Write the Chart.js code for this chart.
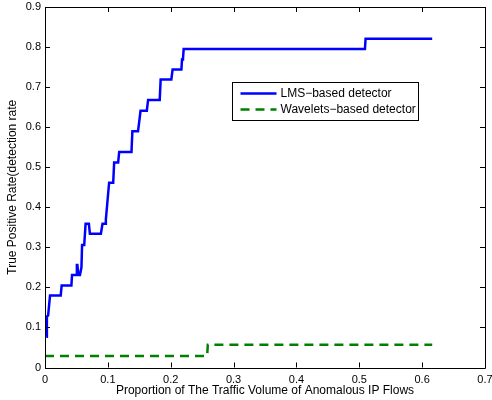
<!DOCTYPE html>
<html>
<head>
<meta charset="utf-8">
<script src="https://cdn.jsdelivr.net/npm/chart.js@4"></script>
<style>
  html, body { margin: 0; padding: 0; background: #fff; }
  #wrap { width: 492px; height: 400px; }
</style>
</head>
<body>
<div id="wrap"><canvas id="roc"></canvas></div>
<script>
// LMS-based detector (corner points of the staircase)
const lmsX = [0.002, 0.003, 0.005, 0.008, 0.025, 0.0265, 0.042, 0.043, 0.050, 0.0507, 0.0515, 0.053, 0.0556,
              0.058, 0.059, 0.0624, 0.0646, 0.0698, 0.0714, 0.0889, 0.0915, 0.0963, 0.0968, 0.1005, 0.102,
              0.1085, 0.110, 0.1164, 0.118, 0.1376, 0.139, 0.148, 0.150, 0.152, 0.162, 0.164, 0.1825, 0.184,
              0.201, 0.203, 0.217, 0.218, 0.2195, 0.2206, 0.509, 0.510, 0.616];
const lmsY = [0.077, 0.127, 0.130, 0.180, 0.180, 0.205, 0.205, 0.231, 0.231, 0.256, 0.256, 0.231, 0.231,
              0.250, 0.306, 0.306, 0.359, 0.359, 0.334, 0.334, 0.359, 0.359, 0.369, 0.435, 0.461,
              0.461, 0.512, 0.512, 0.538, 0.538, 0.590, 0.590, 0.615, 0.641, 0.641, 0.668, 0.668, 0.719,
              0.719, 0.744, 0.744, 0.769, 0.770, 0.795, 0.795, 0.821, 0.821];

// Wavelets-based detector
const wavX = [0, 0.258, 0.259, 0.616];
const wavY = [0.029, 0.029, 0.057, 0.057];

// tick labels
const xTickLabels = ['0', '0.1', '0.2', '0.3', '0.4', '0.5', '0.6', '0.7'];
const yTickLabels = ['0', '0.1', '0.2', '0.3', '0.4', '0.5', '0.6', '0.7', '0.8', '0.9'];

const seriesNames = ['LMS\u2212based detector', 'Wavelets\u2212based detector'];

const FONT = 'Liberation Sans, Arial, Helvetica, sans-serif';

function toPoints(xs, ys) {
    return xs.map((x, i) => ({x: x, y: ys[i]}));
}

// MATLAB style box: frame, inward ticks on all four sides, legend box
const matlabBox = {
    id: 'matlabBox',
    afterDraw(chart) {
        const ctx = chart.ctx;
        const a = chart.chartArea;
        const xs = chart.scales.x, ys = chart.scales.y;
        const tl = 5;
        ctx.save();
        ctx.strokeStyle = '#000';
        ctx.lineWidth = 1;
        ctx.beginPath();
        ctx.rect(Math.round(a.left) + 0.5, Math.round(a.top) + 0.5,
                 Math.round(a.right - a.left), Math.round(a.bottom - a.top));
        xs.ticks.forEach(t => {
            const px = Math.round(xs.getPixelForValue(t.value)) + 0.5;
            ctx.moveTo(px, a.bottom); ctx.lineTo(px, a.bottom - tl);
            ctx.moveTo(px, a.top); ctx.lineTo(px, a.top + tl);
        });
        ys.ticks.forEach(t => {
            const py = Math.round(ys.getPixelForValue(t.value)) + 0.5;
            ctx.moveTo(a.left, py); ctx.lineTo(a.left + tl, py);
            ctx.moveTo(a.right, py); ctx.lineTo(a.right - tl, py);
        });
        ctx.stroke();

        // legend
        const lx = 232.5, ly = 82.5, lw = 186, lh = 38;
        ctx.fillStyle = '#fff';
        ctx.fillRect(lx, ly, lw, lh);
        ctx.strokeRect(lx, ly, lw, lh);
        chart.data.datasets.forEach((ds, i) => {
            const y = ly + 11 + i * 16;
            ctx.beginPath();
            ctx.strokeStyle = ds.borderColor;
            ctx.lineWidth = ds.borderWidth;
            ctx.setLineDash(ds.borderDash || []);
            ctx.moveTo(lx + 8, y);
            ctx.lineTo(lx + 44, y);
            ctx.stroke();
            ctx.setLineDash([]);
            ctx.fillStyle = '#000';
            ctx.font = '12px ' + FONT;
            ctx.textBaseline = 'middle';
            ctx.fillText(ds.label, lx + 48, y);
        });
        ctx.restore();
    }
};

new Chart(document.getElementById('roc'), {
    type: 'scatter',
    data: {
        datasets: [{
            label: seriesNames[0],
            data: toPoints(lmsX, lmsY),
            showLine: true,
            borderColor: '#0000ff',
            borderWidth: 2.5,
            pointRadius: 0,
            tension: 0
        }, {
            label: seriesNames[1],
            data: toPoints(wavX, wavY),
            showLine: true,
            borderColor: '#008000',
            borderWidth: 2.5,
            borderDash: [9, 6],
            pointRadius: 0,
            tension: 0
        }]
    },
    plugins: [matlabBox],
    options: {
        responsive: true,
        maintainAspectRatio: false,
        animation: false,
        layout: { padding: { top: 7, right: 7, left: 0, bottom: 0 } },
        scales: {
            x: {
                type: 'linear',
                min: 0,
                max: 0.7,
                afterFit: s => { s.height = 32.5; s.paddingLeft = 0; s.paddingRight = 0; },
                afterBuildTicks: s => { s.ticks = xTickLabels.map((l, i) => ({value: i / 10})); },
                ticks: {
                    callback: (v, i) => xTickLabels[i],
                    color: '#000',
                    padding: 6,
                    maxRotation: 0,
                    font: { family: FONT, size: 11 }
                },
                grid: { display: false, drawTicks: false },
                border: { display: false },
                title: {
                    display: true,
                    text: 'Proportion of The Traffic Volume of Anomalous IP Flows',
                    color: '#000',
                    padding: { top: 0, bottom: 2 },
                    font: { family: FONT, size: 12 }
                }
            },
            y: {
                type: 'linear',
                min: 0,
                max: 0.9,
                afterFit: s => { s.width = 45; s.paddingTop = 0; s.paddingBottom = 0; },
                afterBuildTicks: s => { s.ticks = yTickLabels.map((l, i) => ({value: i / 10})); },
                ticks: {
                    callback: (v, i) => yTickLabels[i],
                    color: '#000',
                    padding: 4,
                    font: { family: FONT, size: 11 }
                },
                grid: { display: false, drawTicks: false },
                border: { display: false },
                title: {
                    display: true,
                    text: 'True Positive Rate(detection rate',
                    color: '#000',
                    padding: { top: 5, bottom: 0 },
                    font: { family: FONT, size: 12 }
                }
            }
        },
        plugins: {
            legend: { display: false },
            tooltip: { enabled: false }
        }
    }
});
</script>
</body>
</html>
